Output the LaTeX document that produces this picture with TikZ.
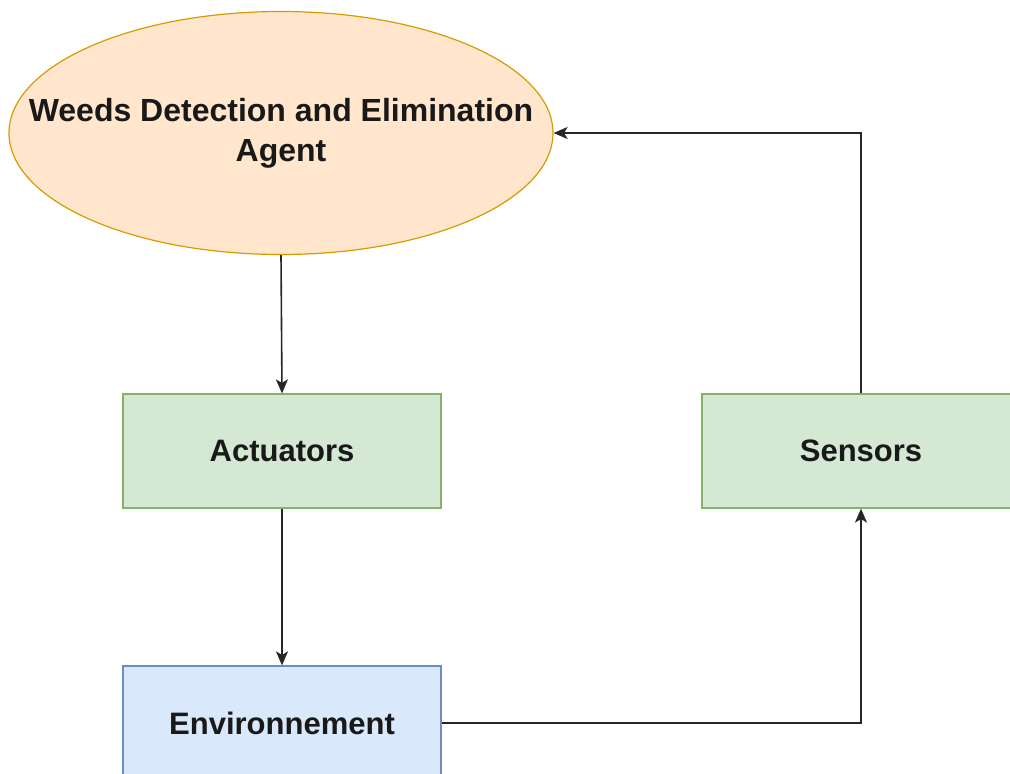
\documentclass[tikz,border=0pt]{standalone}
\usepackage{fontspec}
\setmainfont{Liberation Sans}
\usetikzlibrary{shapes.geometric,arrows.meta}
\definecolor{agentfill}{HTML}{FFE6CC}
\definecolor{agentline}{HTML}{D79B00}
\definecolor{greenfill}{HTML}{D5E8D4}
\definecolor{greenline}{HTML}{82B366}
\definecolor{bluefill}{HTML}{DAE8FC}
\definecolor{blueline}{HTML}{6C8EBF}
\tikzset{
  lbl/.style={font=\fontsize{31}{40}\selectfont\bfseries, text=black!90, align=center},
  agent/.style={ellipse, draw=agentline, fill=agentfill, line width=1.2pt,
    minimum width=544pt, minimum height=243pt, inner sep=0pt},
  greenbox/.style={rectangle, draw=greenline, fill=greenfill, line width=1.2pt,
    minimum width=318pt, minimum height=114pt, inner sep=0pt, lbl},
  bluebox/.style={rectangle, draw=blueline, fill=bluefill, line width=1.2pt,
    minimum width=318pt, minimum height=114pt, inner sep=0pt, lbl},
  flow/.style={draw=black!85, line width=1.6pt,
    -{Stealth[length=14pt,width=12pt,inset=3.5pt]}}
}
\begin{document}
\begin{tikzpicture}[x=1pt,y=-1pt]
\useasboundingbox (0,0) rectangle (1010,774);
\clip (0,0) rectangle (1010,774);
\node[agent] (agent) at (281,133) {};
\node[lbl, font=\fontsize{32}{40}\selectfont\bfseries] (agentlbl) at (agent.center)
  {Weeds Detection and Elimination\\Agent};
\node[greenbox] (act) at (282,451) {Actuators};
\node[greenbox] (sens) at (861,451) {Sensors};
\node[bluebox] (env) at (282,723) {Environnement};
\coordinate (envcorner) at (sens.south |- env.east);
\coordinate (agcorner) at (sens.north |- agent.east);
\draw[flow] (agent.south) -- (act.north);
\draw[flow] (act.south) -- (env.north);
\draw[flow] (env.east) -- (envcorner) -- (sens.south);
\draw[flow] (sens.north) -- (agcorner) -- (agent.east);
\end{tikzpicture}
\end{document}
